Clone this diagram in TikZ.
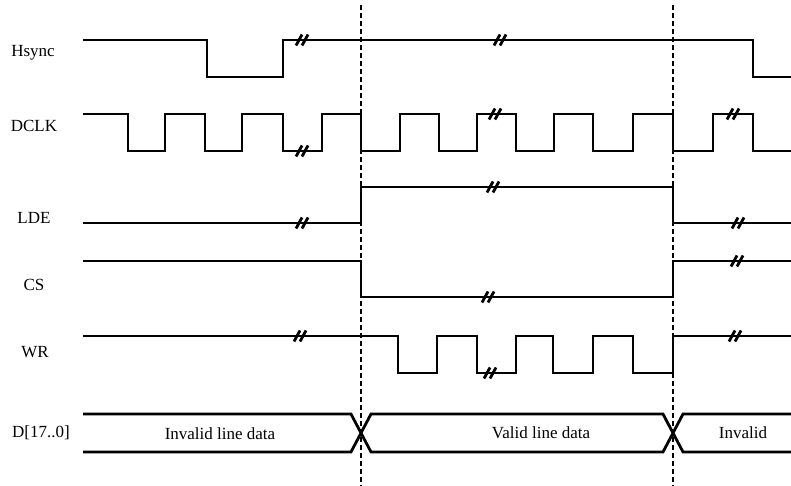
\documentclass[tikz,border=0pt]{standalone}
\usepackage{fontspec}
\setmainfont{Liberation Serif}
\usepackage{tikz}

\begin{document}
\begin{tikzpicture}[x=1pt,y=-1pt,
	sig/.style={line width=2.8pt, line join=miter},
	vline/.style={line width=2.8pt, dash pattern=on 5pt off 3pt},
	lbl/.style={anchor=base, inner sep=0pt, font=\fontsize{17}{20}\selectfont},
	brk/.pic={\draw[line width=2.8pt] (-6,5.5)--(0,-5.5) (0,5.5)--(6,-5.5);}]
		\useasboundingbox (0,0) rectangle (791,486);
		\node[lbl] (hs) at (33,57) {Hsync};
		\node[lbl] (dc) at (34,132) {DCLK};
		\node[lbl] (lde) at (34,223) {LDE};
		\node[lbl] (cs) at (34,290) {CS};
		\node[lbl] (wr) at (35,357) {WR};
		\node[lbl] (db) at (41,437) {D[17..0]};
		\draw[sig] (83,40) -| (207,77) -| (283,40) -| (753,77) -- (791,77);
		\draw[sig] (83,114) -| (128,151) -| (165,114) -| (205,151) -| (242,114) -| (283,151) -| (322,114) -| (361,151)
			-| (400,114) -| (439,151) -| (477,114) -| (516,151) -| (554,114) -| (593,151) -| (633,114) -| (673,151)
			-| (713,114) -| (753,151) -- (791,151);
		\draw[sig] (83,223) -| (361,187) -| (673,223) -- (791,223);
		\draw[sig] (83,261) -| (361,297) -| (673,261) -- (791,261);
		\draw[sig] (83,336) -| (398,373) -| (437,336) -| (477,373) -| (516,336) -| (553,373) -| (593,336) -| (633,373)
			-| (673,336) -- (791,336);
		\draw[sig] (83,414) -- (351,414) -- (371,452) -- (663,452) -- (683,414) -- (791,414);
		\draw[sig] (83,452) -- (351,452) -- (371,414) -- (663,414) -- (683,452) -- (791,452);
		\node[lbl] (inv1) at (220,439) {Invalid line data};
		\node[lbl] (val) at (541,438) {Valid line data};
		\node[lbl] (inv2) at (743,438) {Invalid};
		\draw[vline] (361,5) -- (361,486);
		\draw[vline] (673,5) -- (673,486);
		\pic at (302,40) {brk};
		\pic at (500,40) {brk};
		\pic at (302,151) {brk};
		\pic at (495,114) {brk};
		\pic at (733,114) {brk};
		\pic at (302,223) {brk};
		\pic at (493,187) {brk};
		\pic at (738,223) {brk};
		\pic at (488,297) {brk};
		\pic at (737,261) {brk};
		\pic at (300,336) {brk};
		\pic at (490,373) {brk};
		\pic at (735,336) {brk};
	\end{tikzpicture}
\end{document}
